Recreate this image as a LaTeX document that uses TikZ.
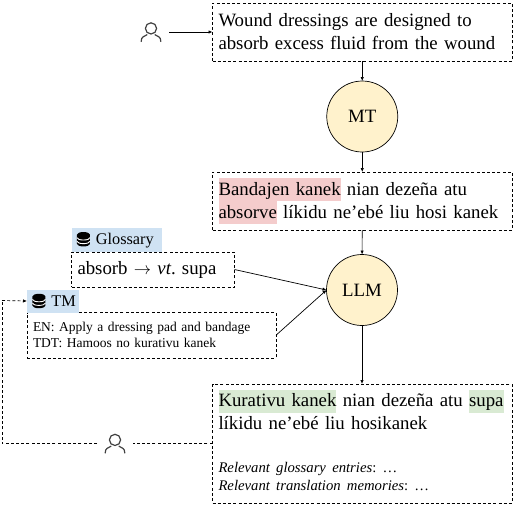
\documentclass[tikz,border=0pt]{standalone}
\usepackage{fontspec}
\setmainfont{Liberation Serif}
\usetikzlibrary{positioning,arrows.meta}

\definecolor{nodeyellow}{HTML}{FFF2CC}
\definecolor{labelblue}{HTML}{CFE2F3}
\definecolor{markred}{HTML}{F4CCCC}
\definecolor{markgreen}{HTML}{D9EAD3}
\definecolor{icongray}{HTML}{404040}

\newcommand{\markword}[2]{{\setlength{\fboxsep}{0pt}\colorbox{#1}{\rule[-6pt]{0pt}{23pt}#2}}}
\newcommand{\dbicon}{\tikz[baseline=-5.2pt,x=1pt,y=1pt]{
    \fill (-6.5,-4.6) arc (180:360:6.5 and 2.6) -- (6.5,4.6) arc (0:180:6.5 and 2.6) -- cycle;
    \draw[white, line width=0.9pt] (-6.5,1.6) arc (180:360:6.5 and 2.4);
    \draw[white, line width=0.9pt] (-6.5,-2) arc (180:360:6.5 and 2.4);
  }}

\tikzset{
  textbox/.style={draw, line width=0.7pt, dash pattern=on 3pt off 2.2pt, align=left, anchor=north west,
    outer sep=0pt, inner sep=0pt, inner xsep=6pt},
  model/.style={circle, draw, fill=nodeyellow, line width=0.7pt, minimum size=71pt, inner sep=0pt, outer sep=0pt,
    font=\fontsize{18.8}{23}\selectfont},
  dblabel/.style={fill=labelblue, anchor=south west, align=left, inner sep=0pt, inner xsep=5pt, outer sep=0pt,
    font=\fontsize{16.3}{19}\selectfont},
  usericon/.style={minimum width=36pt, minimum height=24pt, inner sep=0pt, outer sep=0pt,
    path picture={
      \draw[icongray, line width=1.2pt, line cap=round] (path picture bounding box.center) ++(0,-3.6) circle (5.6);
      \draw[icongray, line width=1.2pt, line cap=round] (path picture bounding box.center) ++(-9.8,9.5)
        .. controls ++(0,-5) and ++(-3,2) .. ++(5.8,-6.8);
      \draw[icongray, line width=1.2pt, line cap=round] (path picture bounding box.center) ++(9.8,9.5)
        .. controls ++(0,-5) and ++(3,2) .. ++(-5.8,-6.8);
    }},
  arrow/.style={-{Latex[length=4pt,width=3.4pt]}, line width=0.7pt},
  loopline/.style={line width=0.7pt, dash pattern=on 3pt off 2.2pt}
}

\begin{document}
\frenchspacing
\begin{tikzpicture}[x=1pt,y=-1pt,every node/.append style={font=\fontsize{18.8}{23}\selectfont}]
  \useasboundingbox (0,0) rectangle (514,504);

  \node[textbox, text width=287.5pt, minimum height=58pt] (source) at (212.5,3)
    {Wound dressings are designed to\\absorb excess fluid from the wound};
  \node[model, below=20pt of source] (mt) {MT};
  \node[textbox, anchor=north, text width=287.5pt, minimum height=58pt, below=20pt of mt] (draft)
    {\markword{markred}{Bandajen kanek} nian dezeña atu\\\markword{markred}{absorve} líkidu ne’ebé liu hosi kanek};

  \node[usericon] (author) at (151,32) {};

  \node[textbox, text width=151pt, minimum height=35pt] (glossary) at (71.5,252)
    {absorb $\rightarrow$ \textit{vt}. supa};
  \node[dblabel, text width=80pt, minimum height=24pt, above right=0pt and 0pt of glossary.north west, anchor=south west] (glossarylabel)
    {\dbicon\ Glossary};

  \node[textbox, text width=237pt, minimum height=45.5pt, font=\fontsize{13.5}{16}\selectfont] (tm) at (27,312.5)
    {EN: Apply a dressing pad and bandage\\TDT: Hamoos no kurativu kanek};
  \node[dblabel, text width=42pt, minimum height=23pt, above right=0pt and 0pt of tm.north west, anchor=south west] (tmlabel)
    {\mbox{\dbicon\ TM}};

  \node[model] (llm) at (362,290) {LLM};

  \node[textbox, text width=287.5pt, minimum height=119pt] (post) at (212.5,384)
    {\mbox{\markword{markgreen}{Kurativu kanek} nian dezeña atu \markword{markgreen}{supa}}\\
     líkidu ne’ebé liu hosikanek\\[20pt]
     {\fontsize{14.7}{17}\selectfont\textit{Relevant glossary entries}: …}\\[-5pt]
     {\fontsize{14.7}{17}\selectfont\textit{Relevant translation memories}: …\rule[-6.5pt]{0pt}{1pt}}};

  \node[usericon] (editor) at (115,443.5) {};
  \coordinate (bend) at (2,300.5);

  \draw[arrow] (author) -- (author -| source.west);
  \draw[arrow] (source) -- (mt);
  \draw[arrow] (mt) -- (draft);
  \draw[arrow] (draft) -- (llm);
  \draw[arrow] (llm) -- (llm |- post.north);
  \draw[arrow] (glossary.east) -- (llm.west);
  \draw[arrow] (tm.east) -- (llm.west);
  \draw[loopline] (post.west) -- (editor.east);
  \draw[loopline] (editor.west) -| (bend);
  \draw[loopline, arrow] (bend) -- (tmlabel.west);
\end{tikzpicture}
\end{document}
